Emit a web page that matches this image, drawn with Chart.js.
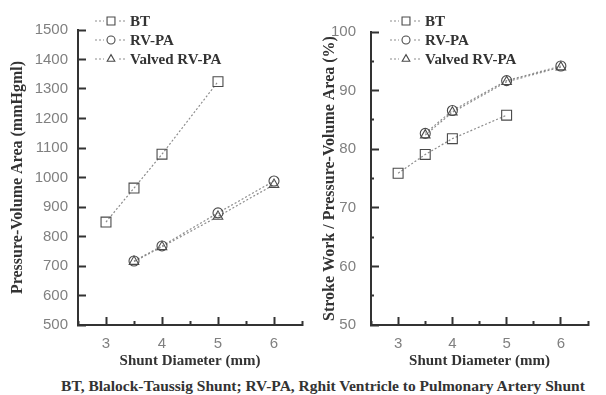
<!DOCTYPE html>
<html>
<head>
<meta charset="utf-8">
<script src="https://cdn.jsdelivr.net/npm/chart.js@4.4.1/dist/chart.umd.min.js"></script>
<style>
  html, body { margin: 0; padding: 0; background: #fff; }
  body { width: 606px; height: 395px; position: relative; overflow: hidden; }
  #leftWrap { position: absolute; left: 0; top: 0; width: 320px; height: 370px; }
  #rightWrap { position: absolute; left: 303px; top: 0; width: 303px; height: 370px; }
  #note { position: absolute; left: 20px; top: 377px; width: 606px; text-align: center;
          font: bold 15.5px "Liberation Serif", "DejaVu Serif", serif; color: #333; white-space: nowrap; line-height: 18px; }
</style>
</head>
<body>
<div id="leftWrap"><canvas id="left" width="320" height="370"></canvas></div>
<div id="rightWrap"><canvas id="right" width="303" height="370"></canvas></div>
<div id="note">BT, Blalock-Taussig Shunt; RV-PA, Rghit Ventricle to Pulmonary Artery Shunt</div>
<script>
// ---- data ----
const seriesNames = ['BT', 'RV-PA', 'Valved RV-PA'];
const btDiameters = [3, 3.5, 4, 5];
const rvpaDiameters = [3.5, 4, 5, 6];
const xTickValues = [2.5, 3, 3.5, 4, 4.5, 5, 5.5, 6, 6.5];
const xLabelValues = [3, 4, 5, 6];

const pvaBT = [849, 964, 1079, 1325];
const pvaRVPA = [717, 768, 880, 988];
const pvaValved = [715, 765, 868, 976];
const pvaTicks = [500, 550, 600, 650, 700, 750, 800, 850, 900, 950, 1000, 1050, 1100, 1150, 1200, 1250, 1300, 1350, 1400, 1450, 1500];
const pvaLabels = [500, 600, 700, 800, 900, 1000, 1100, 1200, 1300, 1400, 1500];

const swBT = [75.9, 79.1, 81.8, 85.8];
const swRVPA = [82.7, 86.6, 91.7, 94.2];
const swValved = [82.4, 86.3, 91.5, 94.0];
const swTicks = [50, 55, 60, 65, 70, 75, 80, 85, 90, 95, 100];
const swLabels = [50, 60, 70, 80, 90, 100];

// ---- styles ----
const axisColor = '#333333';
const lineColor = '#8c8c8c';
const markColor = '#4a4a4a';
const tickFont = { family: '"Liberation Sans", Arial, sans-serif', size: 15 };
const xTitleFont = { family: '"Liberation Serif", "Times New Roman", serif', size: 15, weight: 'bold' };
const yTitleFont = { family: '"Liberation Serif", "Times New Roman", serif', size: 16, weight: 'bold' };
const legendFont = 'bold 15px "Liberation Serif", "Times New Roman", serif';

function pts(xs, ys) { return xs.map((x, i) => ({ x: x, y: ys[i] })); }

function makeDatasets(a, b, c) {
  const common = { borderColor: lineColor, borderWidth: 1.2, borderDash: [2, 2],
    pointBorderColor: markColor, pointBackgroundColor: 'rgba(255,255,255,0)', pointBorderWidth: 1.1,
    showLine: true, fill: false, tension: 0 };
  return [
    Object.assign({}, common, { label: seriesNames[0], data: pts(btDiameters, a), pointStyle: 'rect', pointRadius: 7 }),
    Object.assign({}, common, { label: seriesNames[1], data: pts(rvpaDiameters, b), pointStyle: 'circle', pointRadius: 5 }),
    Object.assign({}, common, { label: seriesNames[2], data: pts(rvpaDiameters, c), pointStyle: 'triangle', pointRadius: 5.5 })
  ];
}

function makeLegend(cfg) {
  return {
    id: 'lineLegend',
    afterDraw(chart) {
      const ctx = chart.ctx;
      ctx.save();
      chart.data.datasets.forEach((ds, i) => {
        const y = 21 + i * 19;
        const x0 = cfg.legendX;
        ctx.strokeStyle = ds.borderColor;
        ctx.lineWidth = ds.borderWidth;
        ctx.setLineDash(ds.borderDash);
        ctx.beginPath(); ctx.moveTo(x0, y); ctx.lineTo(x0 + 32, y); ctx.stroke();
        ctx.setLineDash([]);
        ctx.fillStyle = '#fff';
        ctx.fillRect(x0 + 9, y - 6, 14, 12);
        ctx.strokeStyle = ds.pointBorderColor;
        ctx.fillStyle = ds.pointBackgroundColor;
        ctx.lineWidth = ds.pointBorderWidth;
        Chart.helpers.drawPoint(ctx, { pointStyle: ds.pointStyle, radius: ds.pointRadius * 0.8, rotation: 0, borderWidth: ds.pointBorderWidth }, x0 + 16, y);
        ctx.fillStyle = '#333';
        ctx.font = legendFont;
        ctx.textBaseline = 'middle';
        ctx.textAlign = 'left';
        ctx.fillText(ds.label, x0 + 35, y + 1);
      });
      ctx.restore();
    }
  };
}

function isLabelled(list, v) { return list.some(t => Math.abs(t - v) < 1e-6); }

function makeChart(id, datasets, yMin, yMax, yTicks, yLabels, yTitle, cfg) {
  return new Chart(document.getElementById(id), {
    type: 'scatter',
    data: { datasets: datasets },
    options: {
      responsive: false,
      animation: false,
      events: [],
      layout: { padding: { left: 0, right: cfg.padRight, top: 30, bottom: 0 } },
      plugins: {
        legend: { display: false },
        tooltip: { enabled: false }
      },
      scales: {
        x: {
          type: 'linear', min: 2.5, max: 6.5,
          grid: {
            display: true, drawOnChartArea: false, drawTicks: true, tickLength: -8,
            tickColor: axisColor, tickWidth: 2,
            tickBorderDash: c => (c.tick && isLabelled(xLabelValues, c.tick.value)) ? [] : [5, 100]
          },
          border: { display: true, color: axisColor, width: 2 },
          ticks: { font: tickFont, color: '#808080', padding: 18,
                   callback: v => isLabelled(xLabelValues, v) ? String(v) : '' },
          afterBuildTicks: s => { s.ticks = xTickValues.map(v => ({ value: v })); },
          afterFit: s => { s.height = 45; },
          title: { display: true, text: 'Shunt Diameter (mm)', font: xTitleFont, color: '#333', padding: { top: 0, bottom: 0 } }
        },
        y: {
          type: 'linear', min: yMin, max: yMax,
          grid: {
            display: true, drawOnChartArea: false, drawTicks: true, tickLength: -8,
            tickColor: axisColor, tickWidth: 2,
            tickBorderDash: c => (c.tick && isLabelled(yLabels, c.tick.value)) ? [] : [0, 5, 6, 100]
          },
          border: { display: true, color: axisColor, width: 2 },
          ticks: { font: tickFont, color: '#808080', padding: cfg.tickPad + 8,
                   callback: v => isLabelled(yLabels, v) ? String(v) : '' },
          afterBuildTicks: s => { s.ticks = yTicks.map(v => ({ value: v })); },
          afterFit: s => { s.width = cfg.yWidth; },
          title: { display: true, text: yTitle, font: yTitleFont, color: '#333', padding: { top: cfg.titlePad, bottom: 0 } }
        }
      }
    },
    plugins: [makeLegend(cfg)]
  });
}

makeChart('left', makeDatasets(pvaBT, pvaRVPA, pvaValved), 500, 1500, pvaTicks, pvaLabels,
  'Pressure-Volume Area (mmHgml)',
  { padRight: 8, yWidth: 78, tickPad: 10, titlePad: 8, legendX: 95 });

makeChart('right', makeDatasets(swBT, swRVPA, swValved), 50, 100, swTicks, swLabels,
  'Stroke Work / Pressure-Volume Area (%)',
  { padRight: 1, yWidth: 68, tickPad: 15, titlePad: 17, legendX: 87 });
</script>
</body>
</html>
